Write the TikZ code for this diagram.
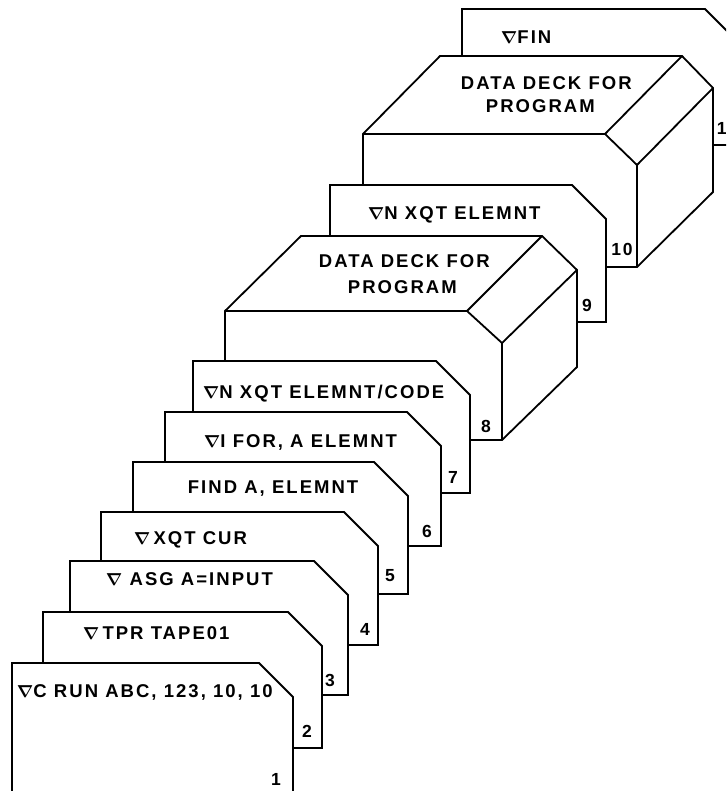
\documentclass[tikz,border=0pt]{standalone}
\usepackage{fontspec}
\setmainfont{Liberation Sans}[LetterSpace=11]
\newcommand{\del}{{\boldmath$\nabla$}}
\begin{document}
\begin{tikzpicture}[x=1pt, y=-1pt, line width=1.8pt, line join=miter,
  card/.style={draw, fill=white},
  txt/.style={anchor=base west, inner sep=0pt, font=\fontsize{18.5}{20}\selectfont\bfseries},
  num/.style={anchor=base, inner sep=0pt, font=\fontsize{17.5}{20}\selectfont\bfseries}]
\useasboundingbox (0,0) rectangle (726,791);
\clip (0,0) rectangle (726,791);
% cards, back to front
\draw[card] (462,145) -- (462,9) -- (705,9) -- (739,43) -- (739,145) -- cycle;
% second data deck
\draw[card] (363,267) -- (363,134) -- (440,56) -- (682,56) -- (713,88) -- (713,192) -- (637,267) -- cycle;
\draw (363,134) -- (605,134) -- (637,165) -- (637,267) (605,134) -- (682,56) (637,165) -- (713,88);
\draw[card] (330,322) -- (330,185) -- (572,185) -- (606,219) -- (606,322) -- cycle;
% first data deck
\draw[card] (225,440) -- (225,311) -- (301,236) -- (542,236) -- (577,270) -- (577,367) -- (502,440) -- cycle;
\draw (225,311) -- (467,311) -- (502,343) -- (502,440) (467,311) -- (542,236) (502,343) -- (577,270);
\foreach \l/\t/\r/\b in {193/361/470/493, 165/412/441/546, 133/462/408/594, 101/512/378/645,
  70/561/348/695, 43/612/322/748, 12/663/293/800}
  \draw[card] (\l,\b) -- (\l,\t) -- ({\r-34},\t) -- (\r,{\t+34}) -- (\r,\b) -- cycle;
% card texts
\foreach \n/\x/\y/\s in {t1/16/697/{\del C RUN ABC, 123, 10, 10}, t2/82/639/{\del\,TPR TAPE01},
  t3/105/585/{\del\ ASG A=INPUT}, t4/133/544/{\del\,XQT CUR}, t5/187/493/{FIND A, ELEMNT},
  t6/203/447/{\del I FOR, A ELEMNT}, t7/202/398/{\del N XQT ELEMNT/CODE},
  t9/367/220/{\del N XQT ELEMNT}, t11/500/44/{\del FIN}}
  \node[txt] (\n) at (\x,\y) {\s};
\node[txt] (t8a) at (318,268) {DATA DECK FOR};
\node[txt] (t8b) at (347,293) {PROGRAM};
\node[txt] (t10a) at (460,90) {DATA DECK FOR};
\node[txt] (t10b) at (485,113) {PROGRAM};
% card numbers
\foreach \k/\x/\y in {1/276/785, 2/307/737, 3/330/686, 4/365/635, 5/390/581, 6/427/537,
  7/453/483, 8/486/432, 9/587/311, 10/622/256, 11/727/135}
  \node[num] (n\k) at (\x,\y) {\k};
\end{tikzpicture}
\end{document}
